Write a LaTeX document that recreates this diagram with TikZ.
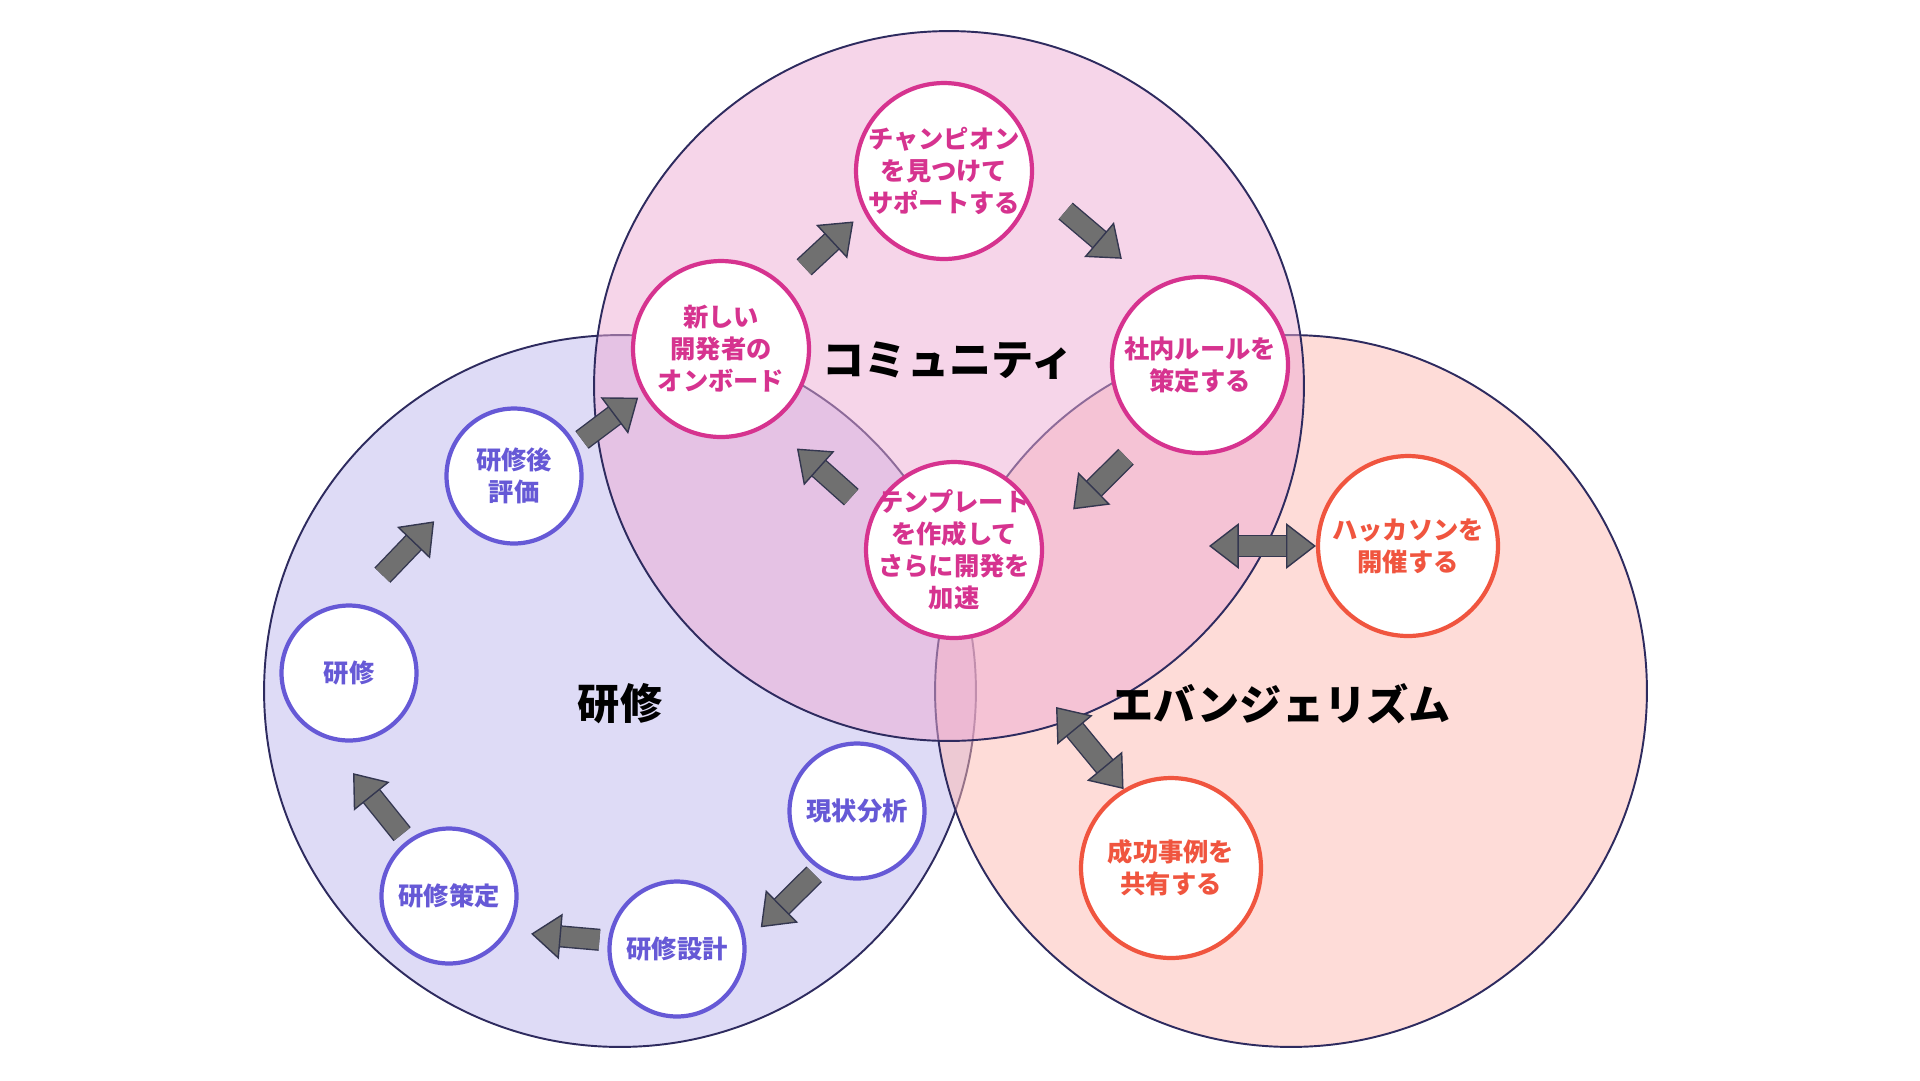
\documentclass[tikz,border=0pt]{standalone}
\usepackage{fontspec}
\setmainfont{Noto Sans CJK JP}
\usepackage{tikz}
\usetikzlibrary{arrows.meta}
\definecolor{komyu}{RGB}{237,171,211}
\definecolor{kenshu}{RGB}{222,219,246}
\definecolor{evan}{RGB}{253,185,177}
\definecolor{waku}{RGB}{46,43,95}
\definecolor{rosa}{RGB}{214,51,143}
\definecolor{murasaki}{RGB}{102,89,214}
\definecolor{sango}{RGB}{240,85,63}
\definecolor{hai}{RGB}{112,112,112}
\definecolor{haiwaku}{RGB}{52,55,80}

\begin{document}
\begin{tikzpicture}[x=0.02cm,y=-0.02cm,
  big/.style={circle,draw=waku,line width=1.1pt,inner sep=0pt},
  cstep/.style={circle,draw=rosa,line width=2.4pt,fill=white,text=rosa,minimum size=3.52cm,inner sep=-8pt,align=center,font=\fontsize{14.4}{18.2}\selectfont\bfseries},
  kstep/.style={cstep,draw=murasaki,text=murasaki,minimum size=2.7cm},
  estep/.style={cstep,draw=sango,text=sango,minimum size=3.6cm},
  title/.style={font=\fontsize{24}{28}\selectfont\bfseries},
  arr/.style={draw=haiwaku,double=hai,double distance=11pt,line width=0.8pt,
    -{Triangle[length=17pt,width=26pt,line width'=0.8pt,fill=hai,color=haiwaku]}},
  dblarr/.style={arr,{Triangle[length=17pt,width=26pt,line width'=0.8pt,fill=hai,color=haiwaku]}-{Triangle[length=17pt,width=26pt,line width'=0.8pt,fill=hai,color=haiwaku]}}]
  \useasboundingbox (0,0) rectangle (1920,1080);
  \node[big,fill=kenshu,minimum size=14.24cm] (kenc) at (620,691) {};
  \node[big,fill=evan,fill opacity=0.5,minimum size=14.24cm] (evac) at (1291,691) {};
  \node[big,fill=komyu,fill opacity=0.5,minimum size=14.2cm] (komc) at (949,386) {};

  \node[title] (komt) at (948,361) {コミュニティ};
  \node[title] (kent) at (620,704) {研修};
  \node[title] (evat) at (1281,704) {エバンジェリズム};

  \node[cstep] (champ) at (944,171) {チャンピオン\\を見つけて\\サポートする};
  \node[cstep] (newdev) at (721,349) {新しい\\開発者の\\オンボード};
  \node[cstep] (rule) at (1200,365) {社内ルールを\\策定する};
  \node[cstep] (tmpl) at (954,550) {テンプレート\\を作成して\\さらに開発を\\加速};

  \node[kstep] (eval) at (514,476) {研修後\\評価};
  \node[kstep] (train) at (349,673) {研修};
  \node[kstep] (plan) at (449,896) {研修策定};
  \node[kstep] (design) at (677,949) {研修設計};
  \node[kstep] (anal) at (857,811) {現状分析};

  \node[estep] (hack) at (1408,546) {ハッカソンを\\開催する};
  \node[estep] (case) at (1171,868) {成功事例を\\共有する};

  \draw[arr,shorten <=0.15cm,shorten >=0.12cm] (eval.27) -- (newdev.-150);
  \draw[arr,shorten <=0.53cm,shorten >=0.28cm] (newdev.45) -- (champ.-153);
  \draw[arr,shorten <=0.85cm,shorten >=0.87cm] (champ.-8) -- (rule.120);
  \draw[arr,shorten <=0.56cm,shorten >=0.84cm] (rule.-127) -- (tmpl.7);
  \draw[arr,shorten <=0.53cm,shorten >=0.72cm] (tmpl.157) -- (newdev.-57);
  \draw[arr,shorten <=0.79cm,shorten >=0.47cm] (train.85) -- (eval.-156);
  \draw[arr,shorten <=0.14cm,shorten >=0.41cm] (anal.-123) -- (design.6);
  \draw[arr,shorten <=0.17cm,shorten >=0.45cm] (design.173) -- (plan.-31);
  \draw[arr,shorten <=0.16cm,shorten >=0.89cm] (plan.127) -- (train.-110);

  \coordinate (hackL) at (1209,546);
  \coordinate (caseU) at (1056,707);
  \draw[dblarr] (hackL) -- (hack);
  \draw[dblarr] (caseU) -- (case.121);
\end{tikzpicture}
\end{document}
